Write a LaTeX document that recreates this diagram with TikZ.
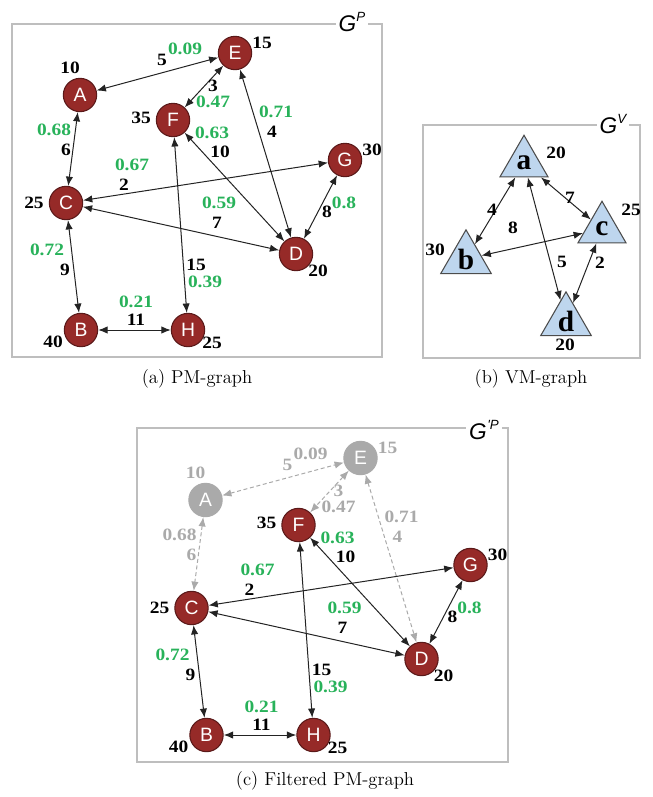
\documentclass[tikz,border=0pt]{standalone}
\usepackage{fontspec}
\usetikzlibrary{arrows.meta,shapes.geometric}
\newfontfamily\numf[FakeStretch=1.12]{Liberation Serif}
\newfontfamily\letf{Liberation Sans}
\newfontfamily\trif{Liberation Serif}
\definecolor{pmred}{RGB}{150,42,40}
\definecolor{pmdark}{RGB}{90,25,25}
\definecolor{lgreen}{RGB}{40,178,90}
\definecolor{tblue}{RGB}{190,214,238}
\definecolor{fgray}{RGB}{170,170,170}
\definecolor{framegray}{RGB}{190,190,190}
\definecolor{edgecol}{RGB}{35,35,35}

\newcommand{\pmgraph}[1]{%
  \node[pmn,nA] (#1A) at (80,95) {A};
  \node[pmn,nA] (#1E) at (235,53) {E};
  \node[pmn] (#1F) at (173,120) {F};
  \node[pmn] (#1G) at (345,160) {G};
  \node[pmn] (#1C) at (66,203) {C};
  \node[pmn] (#1D) at (296,254) {D};
  \node[pmn] (#1B) at (81,330) {B};
  \node[pmn] (#1H) at (188,330) {H};
  % weights
  \node[wt,tA] (#1wA) at (70,68) {10};
  \node[wt,tA] (#1wE) at (262,43) {15};
  \node[wt] (#1wF) at (141,118) {35};
  \node[wt] (#1wG) at (372,150) {30};
  \node[wt] (#1wC) at (34,203) {25};
  \node[wt] (#1wD) at (318,271) {20};
  \node[wt] (#1wB) at (53,342) {40};
  \node[wt] (#1wH) at (212,343) {25};
  % edges
  \draw[edge,eA] (#1A) -- (#1E);
  \draw[edge,eA] (#1E) -- (#1F);
  \draw[edge,eA] (#1A) -- (#1C);
  \draw[edge,eA] (#1E) -- (#1D);
  \draw[edge] (#1F) -- (#1D);
  \draw[edge] (#1C) -- (#1G);
  \draw[edge] (#1C) -- (#1D);
  \draw[edge] (#1G) -- (#1D);
  \draw[edge] (#1C) -- (#1B);
  \draw[edge] (#1F) -- (#1H);
  \draw[edge] (#1B) -- (#1H);
  % edge labels
  \node[wt,tA] (#1l1) at (162,60) {5};
  \node[gl,tA] (#1l2) at (185,49) {0.09};
  \node[wt,tA] (#1l3) at (213,86) {3};
  \node[gl,tA] (#1l4) at (213,102) {0.47};
  \node[gl] (#1l5) at (212,133) {0.63};
  \node[wt] (#1l6) at (220,152) {10};
  \node[gl,tA] (#1l7) at (276,112) {0.71};
  \node[wt,tA] (#1l8) at (272,132) {4};
  \node[gl,tA] (#1l9) at (54,130) {0.68};
  \node[wt,tA] (#1l10) at (66,150) {6};
  \node[gl] (#1l11) at (132,165) {0.67};
  \node[wt] (#1l12) at (124,185) {2};
  \node[gl] (#1l13) at (219,203) {0.59};
  \node[wt] (#1l14) at (217,223) {7};
  \node[wt] (#1l15) at (327,212) {8};
  \node[gl] (#1l16) at (344,203) {0.8};
  \node[gl] (#1l17) at (47,250) {0.72};
  \node[wt] (#1l18) at (65,270) {9};
  \node[wt] (#1l19) at (196,265) {15};
  \node[gl] (#1l20) at (205,282) {0.39};
  \node[gl] (#1l21) at (136,302) {0.21};
  \node[wt] (#1l22) at (136,320) {11};
}

\begin{document}
\begin{tikzpicture}[x=0.75pt,y=-0.75pt,
  pmn/.style={circle,fill=pmred,draw=pmdark,line width=0.8pt,minimum size=25pt,inner sep=0pt,
    text=white,font=\letf\fontsize{14.5}{14.5}\selectfont},
  wt/.style={inner sep=0pt,text=black,font=\numf\bfseries\fontsize{13}{13}\selectfont},
  gl/.style={wt,text=lgreen},
  edge/.style={draw=edgecol,line width=0.75pt,{Latex[length=7pt,width=5.5pt]}-{Latex[length=7pt,width=5.5pt]}},
  nA/.style={},tA/.style={},eA/.style={},
  frm/.style={draw=framegray,line width=1.1pt},
  glab/.style={fill=white,inner xsep=2pt,inner ysep=0pt,font=\letf\itshape\fontsize{17}{17}\selectfont},
  captxt/.style={inner sep=0pt,font=\fontsize{14}{14}\selectfont},
  tri/.style={regular polygon,regular polygon sides=3,minimum size=41.6pt,inner sep=0pt,
    fill=tblue,draw=black!70,line width=0.8pt,font=\trif\bfseries\fontsize{22}{22}\selectfont},
  vedge/.style={draw=edgecol,line width=0.75pt,{Latex[length=7pt,width=5.5pt]}-{Latex[length=7pt,width=5.5pt]}}]
\useasboundingbox (0,0) rectangle (653,797);

% ---------- (a) PM-graph ----------
\draw[frm] (12,24) rectangle (382,357);
\node[glab] (gp) at (352,22) {G\raisebox{.8ex}{\fontsize{10}{10}\selectfont P}};
\begin{scope}
  \pmgraph{a}
\end{scope}
\node[captxt] (capa) at (197,379) {(a) PM-graph};

% ---------- (b) VM-graph ----------
\draw[frm] (423,125) rectangle (640,358);
\node[glab] (gv) at (613,124) {G\raisebox{.8ex}{\fontsize{10}{10}\selectfont V}};
\node[tri] (va) at (524,163) {a};
\node[tri] (vb) at (466,259) {b};
\node[tri] (vc) at (602,229) {c};
\node[tri] (vd) at (566,321) {d};
\draw[vedge] (va) -- (vb);
\draw[vedge] (va) -- (vc);
\draw[vedge] (vb) -- (vc);
\draw[vedge] (va) -- (vd);
\draw[vedge] (vc) -- (vd);
\node[wt] (vwa) at (556,153) {20};
\node[wt] (vwb) at (435,250) {30};
\node[wt] (vwc) at (631,210) {25};
\node[wt] (vwd) at (565,345) {20};
\node[wt] (vl1) at (492,210) {4};
\node[wt] (vl2) at (570,198) {7};
\node[wt] (vl3) at (513,228) {8};
\node[wt] (vl4) at (562,262) {5};
\node[wt] (vl5) at (600,263) {2};
\node[captxt] (capb) at (531,379) {(b) VM-graph};

% ---------- (c) Filtered PM-graph ----------
\draw[frm] (137,428) rectangle (508,762);
\node[glab] (gfp) at (484,430) {G\raisebox{.8ex}{\fontsize{10}{10}\selectfont\kern.5pt'P}};
\begin{scope}[shift={(125.5,405)},
  nA/.style={fill=fgray,draw=fgray},
  tA/.style={text=fgray},
  eA/.style={draw=fgray,dash pattern=on 3pt off 2pt}]
  \pmgraph{c}
\end{scope}
\node[captxt] (capc) at (325,781) {(c) Filtered PM-graph};
\end{tikzpicture}
\end{document}
